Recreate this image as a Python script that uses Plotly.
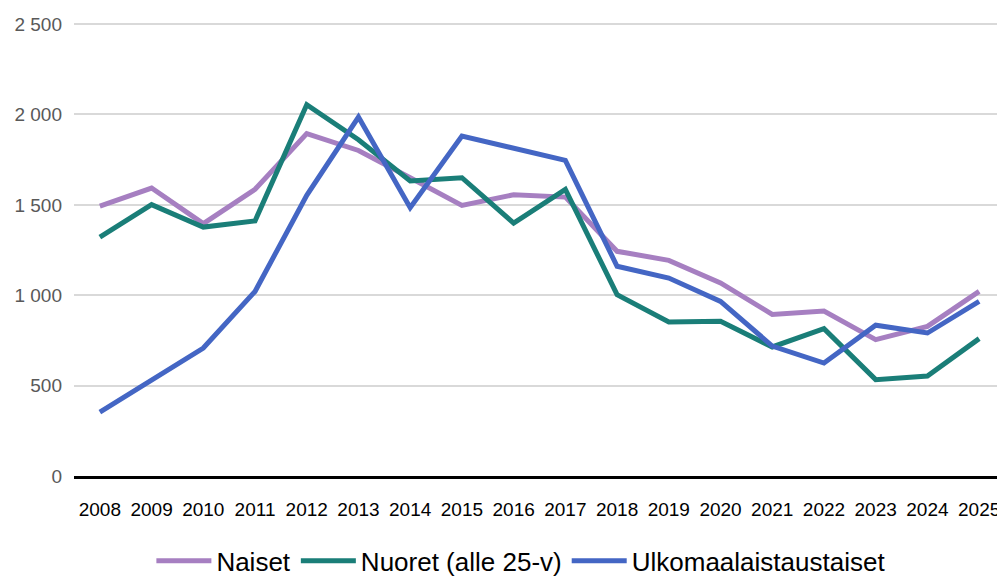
import plotly.graph_objects as go

# Data
years = [str(y) for y in range(2008, 2026)]
naiset = [1493, 1593, 1396, 1586, 1894, 1801, 1650, 1497, 1556, 1543,
          1243, 1193, 1068, 894, 913, 754, 828, 1021]
nuoret = [1322, 1501, 1377, 1411, 2054, 1860, 1632, 1650, 1399, 1586,
          1003, 852, 856, 714, 815, 533, 553, 760]
ulkomaalaiset = [354, 533, 708, 1021, 1553, 1986, 1484, 1881, 1811, 1746,
                 1160, 1095, 966, 719, 625, 834, 791, 966]

FONT = "Liberation Sans, Arial, sans-serif"

fig = go.Figure()
fig.add_trace(go.Scatter(x=years, y=naiset, mode="lines", name="Naiset",
                         line=dict(color="#A67FC1", width=5)))
fig.add_trace(go.Scatter(x=years, y=nuoret, mode="lines", name="Nuoret (alle 25-v)",
                         line=dict(color="#1A7E78", width=5)))
fig.add_trace(go.Scatter(x=years, y=ulkomaalaiset, mode="lines", name="Ulkomaalaistaustaiset",
                         line=dict(color="#4466C4", width=5)))

# page body has an 8px margin, so the figure is sized 8px smaller
fig.update_layout(
    width=997, height=571,
    margin=dict(l=66, r=0, t=15, b=103),
    plot_bgcolor="white", paper_bgcolor="white",
    separators=", ",
    font=dict(family=FONT, color="#000000"),
    showlegend=True,
    legend=dict(orientation="h", x=0.48, xanchor="center",
                yref="container", y=0.032, yanchor="middle",
                font=dict(size=26, family=FONT), itemwidth=55, tracegroupgap=0),
)
fig.update_xaxes(type="category", range=[-0.5, 17.5], showgrid=False,
                 showline=True, linecolor="#000000", linewidth=3,
                 ticks="", ticklabelstandoff=14,
                 tickfont=dict(size=19, color="#000000", family=FONT))
fig.update_yaxes(range=[0, 2506], tickvals=[0, 500, 1000, 1500, 2000, 2500],
                 tickformat=",d", showgrid=True, gridcolor="#D9D9D9", gridwidth=1.5,
                 zeroline=False, ticks="", ticklabelstandoff=11,
                 tickfont=dict(size=19, color="#595959", family=FONT))

fig.write_html("out.html")
